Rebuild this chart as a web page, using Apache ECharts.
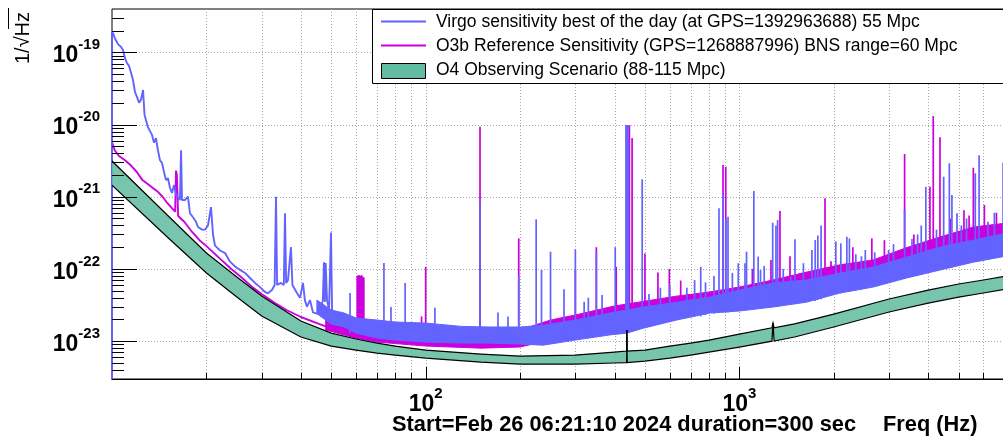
<!DOCTYPE html>
<html><head><meta charset="utf-8">
<script src="https://cdn.jsdelivr.net/npm/echarts@6/dist/echarts.min.js"></script>
<style>html,body{margin:0;padding:0;background:#fff}#c{width:1003px;height:437px}</style>
</head><body><div id="c"></div>
<script>
// ---------------- data ----------------
const xTickValues = [100, 1000];
const xTickLabels = ['10^2', '10^3'];
const yTickValues = [1e-19, 1e-20, 1e-21, 1e-22, 1e-23];
const yTickLabels = ['10^-19', '10^-20', '10^-21', '10^-22', '10^-23'];
const xGridValues = [20,30,40,50,60,70,80,90,100,200,300,400,500,600,700,800,900,1000,2000,3000,4000,5000,6000];
const yMinorMantissa = [2,3,4,5,6,7,8,9];

const legendLabels = [
  'Virgo sensitivity best of the day (at GPS=1392963688) 55 Mpc',
  'O3b Reference Sensitivity (GPS=1268887996) BNS range=60 Mpc',
  'O4 Observing Scenario (88-115 Mpc)'
];
const xTitleLeft = 'Start=Feb 26 06:21:10 2024 duration=300 sec';
const xTitleRight = 'Freq (Hz)';
const yTitle = '1/\u221AHz';

// Virgo (blue) low-frequency trace
const virgoLowFreq = [10,10,10.1,10.2,10.45,10.7,10.84,11.0,11.16,11.33,11.5,11.67,11.84,12.02,12.2,12.37,12.56,12.7,12.84,13.02,13.21,13.41,13.61,13.81,14.01,14.22,14.43,14.65,14.86,15.08,15.31,15.53,15.76,16.0,16.23,16.47,16.6,16.72,17.08,17.46,17.73,18.12,18.53,18.8,19.36,19.8,20.23,20.68,20.99,21.3,22.1,22.93,23.78,24.67,25.59,26.55,27.54,28.57,29.64,30.74,31.43,32.36,33.0,33.33,33.6,34.57,35.3,35.6,35.9,36.39,37.2,37.6,38.04,39.17,39.75,40.63,41.2,41.84,42.78,43.74,45.03,46.04,47.0,47.4,47.7,48.0,48.46,49.2,49.9,50.3,51];
const virgoLowValue = [1e-25,1.93e-19,1.8e-19,1.58e-19,1.30e-19,1.18e-19,1.08e-19,8.3e-20,7.1e-20,6.5e-20,5.2e-20,4.1e-20,2.8e-20,2.4e-20,2.0e-20,2.2e-20,3.0e-20,1.35e-20,1.27e-20,9.2e-21,8.9e-21,7.2e-21,5.6e-21,6.5e-21,4.4e-21,3.2e-21,2.95e-21,2.2e-21,1.7e-21,1.8e-21,1.32e-21,1.13e-21,1.45e-21,1.06e-21,1.0e-21,9.0e-22,4.4e-21,9.0e-22,9.0e-22,1.0e-21,5.9e-22,5.2e-22,4.5e-22,3.8e-22,3.5e-22,3.5e-22,4.0e-22,7.2e-22,3.0e-22,2.1e-22,1.8e-22,1.66e-22,1.26e-22,1.08e-22,9.7e-23,8.8e-23,7.5e-23,6.4e-23,5.6e-23,4.8e-23,4.6e-23,5.1e-23,6.0e-23,1.0e-21,6.0e-23,6.4e-23,6.0e-23,5.9e-22,6.4e-23,7.0e-23,2.0e-22,6.0e-23,6.0e-23,4.4e-23,4.0e-23,6.4e-23,3.7e-23,3.0e-23,3.7e-23,2.5e-23,2.4e-23,2.45e-23,3.7e-23,1.24e-22,3.5e-23,1.21e-22,3.7e-23,2.7e-23,3.2e-22,2.7e-23,2.3e-23];

// Virgo noise floor (upper / lower edge of the dense band)
const virgoFloorFreq = [45,50,55,60,70,80,100,130,160,200,237,300,387,437,494,631,806,1004,1283,1635,2093,2673,3415,4361,5568,7100];
const virgoFloorHigh = [3.7e-23,2.7e-23,2.45e-23,2.09e-23,1.96e-23,1.84e-23,1.78e-23,1.6e-23,1.57e-23,1.57e-23,1.66e-23,1.96e-23,2.45e-23,2.7e-23,2.97e-23,3.46e-23,4.08e-23,5.1e-23,6.38e-23,7.02e-23,8.78e-23,1.06e-22,1.46e-22,2.01e-22,2.51e-22,3.14e-22];
const virgoFloorLow  = [2.4e-23,1.72e-23,1.57e-23,1.29e-23,1.10e-23,1.035e-23,9.7e-24,9.4e-24,9.4e-24,9.1e-24,8.8e-24,1.035e-23,1.22e-23,1.29e-23,1.51e-23,1.96e-23,2.45e-23,2.62e-23,2.97e-23,3.46e-23,4.64e-23,5.61e-23,7.5e-23,9.66e-23,1.24e-22,1.51e-22];

// Virgo lines: [frequency, floor level, peak]
const virgoSpikes = [
  [57.4,1.3e-23,4.64e-23],[73.6,1.1e-23,1.21e-22],[77.5,1.1e-23,2.97e-23],[86,1.05e-23,6.38e-23],[107,1.0e-23,2.9e-23],
  [149,1.0e-23,8.5e-22],[170,1.0e-23,2.5e-23],[183,1.0e-23,2.2e-23],[198,1.0e-23,7.8e-23],[225,1.0e-23,4.86e-22],[234,1.0e-23,9.66e-23],[250,1.0e-23,1.73e-22],
  [276,1.1e-23,5.22e-23],[300,1.1e-23,1.87e-22],[320,1.2e-23,3.5e-23],[330,1.2e-23,4.0e-23],[350,1.2e-23,1.66e-22],[365,1.2e-23,4.35e-23],[402,1.3e-23,2.0e-22],
  [435,1.3e-23,9.84e-21],[437,1.3e-23,9.84e-21],[439,1.3e-23,9.84e-21],[441,1.3e-23,9.84e-21],[443,1.3e-23,6.0e-21],
  [490,1.5e-23,1.74e-21],[515,1.6e-23,4.5e-23],[560,1.8e-23,5.5e-23],[600,2.0e-23,6.0e-23],[680,2.1e-23,5.5e-23],[720,2.2e-23,7.0e-23],
  [753,2.2e-23,1.07e-22],[780,2.3e-23,6.5e-23],[830,2.4e-23,8.0e-23],[861,2.5e-23,6.91e-22],[887,2.5e-23,1.06e-21],[905,2.5e-23,4.76e-22],
  [920,2.5e-23,5.3e-22],[950,2.6e-23,8.8e-23],[992,2.6e-23,1.2e-22],[1042,2.7e-23,1.2e-22],[1054,2.7e-23,1.73e-22],
  [1112,2.8e-23,1.2e-21],[1148,2.8e-23,1.48e-22],[1168,2.9e-23,9.66e-23],[1200,3.0e-23,1.1e-22],[1277,3.0e-23,4.36e-22],[1308,3.0e-23,4.0e-22],
  [1324,3.0e-23,4.76e-22],[1380,3.2e-23,1.0e-22],[1458,3.3e-23,7.8e-23],[1504,3.3e-23,2.57e-22],[1600,3.4e-23,1.2e-22],[1703,3.6e-23,1.83e-22],[1745,3.6e-23,2.51e-22],
  [1779,3.7e-23,2.9e-22],[1822,3.8e-23,4.0e-22],[2030,4.5e-23,2.4e-22],[2106,4.6e-23,2.26e-22],[2201,4.8e-23,2.78e-22],
  [2243,4.8e-23,2.64e-22],[2350,5.0e-23,1.6e-22],[2450,5.2e-23,1.5e-22],[2520,5.3e-23,1.83e-22],[2700,5.8e-23,1.7e-22],[2990,6.5e-23,1.83e-22],
  [3100,6.7e-23,2.2e-22],[3363,7.3e-23,6.54e-22],[3550,7.8e-23,2.6e-22],[3700,8.0e-23,3.0e-22],[3800,8.3e-23,4.0e-22],[3930,8.5e-23,1.37e-21],
  [4250,9.5e-23,3.5e-22],[4480,1.0e-22,1.89e-21],[4670,1.05e-22,2.9e-21],[4760,1.05e-22,1.06e-21],[4940,1.1e-22,5.9e-22],[5100,1.15e-22,4.0e-22],
  [5300,1.2e-22,5.0e-22],[5650,1.25e-22,2.11e-21],[5810,1.3e-22,3.74e-21],[6200,1.4e-22,4.5e-22],[6500,1.45e-22,6.0e-22],[6930,1.5e-22,2.95e-21]
];

// O3b reference (magenta) low-frequency trace
const o3bLowFreq = [10,10.2,10.5,11,11.5,12,12.5,13,13.5,14,14.5,15,15.5,15.9,16.0,16.1,16.25,17,18,19,20,22,24,26,28,30,33,36,40,45,48];
const o3bLowValue = [5.7e-21,4.4e-21,3.7e-21,3.2e-21,2.7e-21,2.2e-21,1.7e-21,1.5e-21,1.32e-21,1.17e-21,1.0e-21,8.2e-22,7.0e-22,6.2e-22,2.3e-21,2.0e-21,5.4e-22,4.5e-22,3.25e-22,2.5e-22,2.07e-22,1.41e-22,1.0e-22,7.5e-23,5.6e-23,4.5e-23,3.4e-23,2.7e-23,2.16e-23,1.78e-23,1.6e-23];

// O3b noise floor
const o3bFloorFreq = [48,55,60,70,100,150,200,250,300,400,500,630,800,1000,1280,1630,2090,2670,3400,4360,5570,7100];
const o3bFloorHigh = [1.96e-23,1.66e-23,1.51e-23,1.43e-23,1.33e-23,1.29e-23,1.43e-23,1.96e-23,2.3e-23,3.07e-23,3.58e-23,4.2e-23,4.78e-23,5.61e-23,7.02e-23,9.0e-23,1.14e-22,1.33e-22,1.96e-22,2.77e-22,3.8e-22,4.32e-22];
const o3bFloorLow  = [1.43e-23,1.22e-23,1.10e-23,9.7e-24,8.55e-24,8.0e-24,8.3e-24,1.035e-23,1.22e-23,1.66e-23,1.96e-23,2.3e-23,2.7e-23,3.15e-23,3.71e-23,4.78e-23,6.0e-23,7.02e-23,9.66e-23,1.33e-22,1.83e-22,2.14e-22];

// O3b lines: [frequency, floor level, peak]
const o3bSpikes = [
  [60.5,1.1e-23,8.0e-23],[61,1.1e-23,8.2e-23],[61.5,1.1e-23,8.2e-23],[62,1.1e-23,8.0e-23],[62.5,1.1e-23,8.2e-23],[63,1.1e-23,7.8e-23],[63.5,1.1e-23,7.6e-23],
  [97,9e-24,2.2e-23],[100,9e-24,1.07e-22],[149,9e-24,9.3e-21],[198,9e-24,2.65e-22],[300,1.3e-23,9.66e-23],[350,1.4e-23,2.0e-22],
  [405,1.6e-23,1.07e-22],[438,1.7e-23,9.8e-21],[440,1.7e-23,9.8e-21],[446,1.7e-23,9.8e-21],[455,1.7e-23,6.5e-21],[500,2.0e-23,1.64e-22],
  [550,2.1e-23,8.9e-23],[598,2.2e-23,1.0e-22],[650,2.3e-23,6.9e-23],[887,2.8e-23,2.75e-21],[905,2.8e-23,2.6e-21],
  [1100,3.2e-23,1.0e-22],[1261,3.6e-23,1.33e-22],[1347,3.8e-23,6.34e-22],[1450,4.0e-23,1.5e-22],[1875,5.2e-23,9.5e-22],[1960,5.5e-23,1.28e-22],
  [2300,6.2e-23,2.0e-22],[2644,7.0e-23,2.65e-22],[2900,7.5e-23,2.5e-22],[3363,9.0e-23,3.9e-21],[3600,1.0e-22,3.0e-22],[4050,1.2e-22,1.37e-21],
  [4150,1.25e-22,1.31e-20],[4360,1.3e-22,6.65e-21],[4700,1.4e-22,5.0e-22],[5200,1.6e-22,6.5e-22],[5400,1.7e-22,5.5e-22],[5570,1.8e-22,2.52e-21],
  [6040,1.9e-22,7.7e-22],[6600,2.0e-22,6.0e-22]
];

// O4 observing scenario band (upper / lower edge)
const o4Freq  = [10,15,20,25,30,40,50,60,70,80,100,150,200,300,400,437,438,439,500,600,700,800,1000,1270,1280,1290,1500,2000,3000,4000,5000,6000,7100];
const o4Upper = [3.12e-21,5.58e-22,1.66e-22,7.73e-23,4.21e-23,1.90e-23,1.29e-23,1.07e-23,9.41e-24,8.55e-24,7.53e-24,6.63e-24,6.22e-24,6.42e-24,7.06e-24,7.3e-24,1.43e-23,7.3e-24,7.53e-24,8.55e-24,9.41e-24,1.035e-23,1.25e-23,1.53e-23,1.78e-23,1.53e-23,1.73e-23,2.37e-23,3.83e-23,5.10e-23,6.18e-23,7.02e-23,7.97e-23];
const o4Lower = [1.45e-21,2.77e-22,8.78e-23,4.08e-23,2.23e-23,1.14e-23,8.55e-24,7.53e-24,6.84e-24,6.42e-24,5.83e-24,5.13e-24,4.82e-24,4.82e-24,4.98e-24,5.05e-24,1.43e-23,5.05e-24,5.30e-24,5.83e-24,6.42e-24,7.06e-24,8.28e-24,1.0e-23,1.78e-23,1.0e-23,1.14e-23,1.57e-23,2.53e-23,3.37e-23,4.08e-23,4.64e-23,5.27e-23];

// ---------------- chart ----------------
const FONT = "'Liberation Sans', Arial, Helvetica, sans-serif";
const BLUE = '#6363ff', MAGENTA = '#cc00dd', TEAL = '#62bca1';
const X_MIN = 10, X_MAX = 7079, Y_MIN = 2.99e-24, Y_MAX = 3.98e-19;

function powRich(lbl) {
  const p = lbl.split('^');
  return '{b|' + p[0] + '}{s|' + p[1] + '}';
}
function findLabel(vals, labels, v) {
  for (let i = 0; i < vals.length; i++) {
    if (Math.abs(Math.log10(vals[i]) - Math.log10(v)) < 1e-6) return powRich(labels[i]);
  }
  return '';
}
const rich = {
  b: {fontFamily: FONT, fontSize: 23, fontWeight: 'bold', color: '#000', lineHeight: 30, verticalAlign: 'bottom'},
  s: {fontFamily: FONT, fontSize: 15, fontWeight: 'bold', color: '#000', lineHeight: 18, verticalAlign: 'top'}
};
function clipOf(params) {
  const cs = params.coordSys;
  return {type: 'rect', shape: {x: cs.x, y: cs.y, width: cs.width, height: cs.height}};
}
function bandSeries(name, freqs, hi, lo, color, z, edge) {
  return {
    type: 'custom', name: name, z: z, silent: true,
    data: [[freqs[0], hi[0]]],
    renderItem: function (params, api) {
      const top = [], bot = [];
      for (let i = 0; i < freqs.length; i++) top.push(api.coord([freqs[i], hi[i]]));
      for (let i = 0; i < freqs.length; i++) bot.push(api.coord([freqs[i], lo[i]]));
      const pts = top.concat(bot.slice().reverse());
      const children = [{type: 'polygon', shape: {points: pts},
        style: edge ? {fill: color, opacity: 0.86} : {fill: color, stroke: color, lineWidth: 1}}];
      if (edge) {
        children.push({type: 'polyline', shape: {points: top}, style: {stroke: '#000', lineWidth: 1.2, fill: null}});
        children.push({type: 'polyline', shape: {points: bot}, style: {stroke: '#000', lineWidth: 1.2, fill: null}});
      }
      return {type: 'group', clipPath: clipOf(params), children: children};
    }
  };
}
function spikeSeries(name, spikes, color, z) {
  return {
    type: 'custom', name: name, z: z, silent: true,
    data: spikes,
    encode: {x: 0, y: [1, 2]},
    renderItem: function (params, api) {
      const a = api.coord([api.value(0), api.value(1)]);
      const b = api.coord([api.value(0), api.value(2)]);
      return {type: 'line', shape: {x1: a[0], y1: a[1], x2: b[0], y2: b[1]},
        style: {stroke: color, lineWidth: 1.7}};
    }
  };
}
function lineSeries(name, freqs, vals, color, z) {
  return {
    type: 'line', name: name, z: z, silent: true, symbol: 'none', animation: false,
    data: freqs.map((f, i) => [f, vals[i]]),
    lineStyle: {color: color, width: 1.9}
  };
}

const yMinorTicks = [];
for (let e = -24; e <= -19; e++) yMinorMantissa.forEach(m => {
  const v = m * Math.pow(10, e);
  if (v > Y_MIN && v < Y_MAX) yMinorTicks.push(v);
});

const gridSeries = {
  type: 'custom', z: 1, silent: true,
  data: xGridValues.map(v => [v, Y_MIN, 0]).concat(yTickValues.map(v => [X_MIN, v, 1])),
  renderItem: function (params, api) {
    const kind = api.value(2);
    if (kind === 0) {
      const p0 = api.coord([api.value(0), Y_MIN]), p1 = api.coord([api.value(0), Y_MAX]);
      const x = Math.round(p0[0]) + 0.5;
      return {type: 'line', shape: {x1: x, y1: p1[1], x2: x, y2: p0[1]}, style: {stroke: '#a8a8a8', lineWidth: 1, lineDash: [1, 2]}};
    }
    const q0 = api.coord([X_MIN, api.value(1)]), q1 = api.coord([X_MAX, api.value(1)]);
    const y = Math.round(q0[1]) + 0.5;
    return {type: 'line', shape: {x1: q0[0], y1: y, x2: q1[0], y2: y}, style: {stroke: '#a8a8a8', lineWidth: 1, lineDash: [1, 2]}};
  }
};
const tickSeries = {
  type: 'custom', z: 20, silent: true,
  data: xGridValues.map(v => [v, Y_MIN, 0]).concat(yTickValues.map(v => [X_MIN, v, 1])).concat(yMinorTicks.map(v => [X_MIN, v, 2])),
  renderItem: function (params, api) {
    const kind = api.value(2);
    if (kind === 0) {
      const v = api.value(0);
      const p = api.coord([v, Y_MIN]);
      const major = xTickValues.indexOf(v) >= 0;
      const x = Math.round(p[0]) + 0.5;
      return {type: 'line', shape: {x1: x, y1: p[1], x2: x, y2: p[1] - (major ? 12 : 6)}, style: {stroke: '#000', lineWidth: 1}};
    }
    const q = api.coord([X_MIN, api.value(1)]);
    const y = Math.round(q[1]) + 0.5;
    return {type: 'line', shape: {x1: q[0], y1: y, x2: q[0] + (kind === 1 ? 25 : 12), y2: y}, style: {stroke: '#000', lineWidth: 1}};
  }
};

const chart = echarts.init(document.getElementById('c'), null, {renderer: 'canvas'});
chart.setOption({
  animation: false,
  backgroundColor: '#fff',
  grid: {left: 112, right: -3, top: 9, bottom: 58, containLabel: false, outerBoundsMode: 'none',
    show: true, borderColor: '#000', borderWidth: 1, backgroundColor: 'transparent'},
  xAxis: {
    type: 'log', logBase: 10, min: X_MIN, max: X_MAX,
    axisLine: {show: true, onZero: false, lineStyle: {color: '#000', width: 1}},
    axisTick: {show: false}, splitLine: {show: false}, minorTick: {show: false},
    axisLabel: {margin: 7, formatter: v => findLabel(xTickValues, xTickLabels, v), rich: rich, showMinLabel: true, showMaxLabel: true}
  },
  yAxis: {
    type: 'log', logBase: 10, min: Y_MIN, max: Y_MAX,
    axisLine: {show: false},
    axisTick: {show: false}, splitLine: {show: false}, minorTick: {show: false},
    axisLabel: {margin: 12, formatter: v => findLabel(yTickValues, yTickLabels, v), rich: rich}
  },
  series: [
    gridSeries,
    lineSeries(legendLabels[1], o3bLowFreq, o3bLowValue, MAGENTA, 3),
    bandSeries('o3bFloor', o3bFloorFreq, o3bFloorHigh, o3bFloorLow, MAGENTA, 3, false),
    spikeSeries('o3bLines', o3bSpikes, MAGENTA, 3),
    lineSeries(legendLabels[0], virgoLowFreq, virgoLowValue, BLUE, 4),
    bandSeries('virgoFloor', virgoFloorFreq, virgoFloorHigh, virgoFloorLow, BLUE, 4, false),
    spikeSeries('virgoLines', virgoSpikes, BLUE, 4),
    bandSeries(legendLabels[2], o4Freq, o4Upper, o4Lower, TEAL, 6, true),
    tickSeries
  ],
  graphic: [
    {type: 'rect', z: 100, shape: {x: 372.5, y: 9.5, width: 700, height: 74}, style: {fill: '#fff', stroke: '#000', lineWidth: 1}},
    {type: 'line', z: 101, shape: {x1: 381, y1: 21.5, x2: 426, y2: 21.5}, style: {stroke: BLUE, lineWidth: 2}},
    {type: 'line', z: 101, shape: {x1: 381, y1: 45.5, x2: 426, y2: 45.5}, style: {stroke: MAGENTA, lineWidth: 2}},
    {type: 'rect', z: 101, shape: {x: 381.5, y: 63.5, width: 44, height: 15}, style: {fill: TEAL, stroke: '#000', lineWidth: 1}},
    {type: 'text', z: 101, x: 436, y: 22, style: {text: legendLabels[0], font: '17.5px ' + FONT, fill: '#000', verticalAlign: 'middle'}},
    {type: 'text', z: 101, x: 436, y: 46, style: {text: legendLabels[1], font: '17.5px ' + FONT, fill: '#000', verticalAlign: 'middle'}},
    {type: 'text', z: 101, x: 436, y: 70.5, style: {text: legendLabels[2], font: '17.5px ' + FONT, fill: '#000', verticalAlign: 'middle'}},
    {type: 'text', z: 101, x: 392, y: 425, style: {text: xTitleLeft, font: 'bold 21.8px ' + FONT, fill: '#000', verticalAlign: 'middle'}},
    {type: 'text', z: 101, x: 883, y: 425, style: {text: xTitleRight, font: 'bold 21.8px ' + FONT, fill: '#000', verticalAlign: 'middle'}},
    {type: 'text', z: 101, x: 23, y: 38, rotation: Math.PI / 2, style: {text: yTitle, font: '20px ' + FONT, fill: '#000', align: 'center', verticalAlign: 'middle'}},
    {type: 'line', z: 101, shape: {x1: 8.5, y1: 8, x2: 8.5, y2: 29}, style: {stroke: '#000', lineWidth: 1}}
  ]
});
</script></body></html>
